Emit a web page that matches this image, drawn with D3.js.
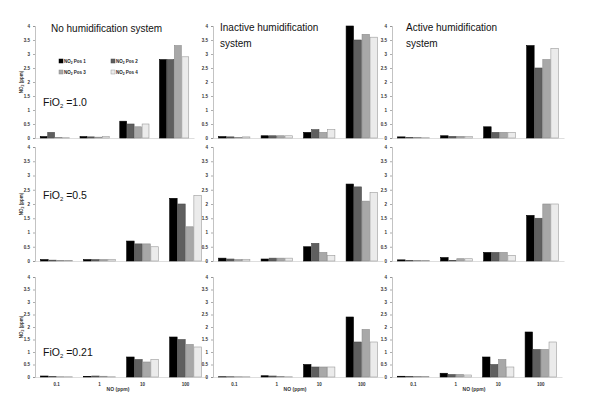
<!DOCTYPE html>
<html><head><meta charset="utf-8">
<script src="https://cdn.jsdelivr.net/npm/d3@7"></script>
<style>body{margin:0;background:#fff}svg{display:block;font-family:"Liberation Sans",Arial,sans-serif}</style>
</head><body>
<svg id="c" width="600" height="409"></svg>
<script>
// ---- data ----
const categories = ["0.1", "1", "10", "100"];
const seriesNames = ["Pos 1", "Pos 2", "Pos 3", "Pos 4"];
const seriesColors = ["#000000", "#5f5f5f", "#a8a8a8", "#ebebeb"];
const seriesStrokes = ["#000000", "#4a4a4a", "#8a8a8a", "#9a9a9a"];
const yTicks = [0, 0.5, 1, 1.5, 2, 2.5, 3, 3.5, 4];
const columnTitles = [["No humidification system"], ["Inactive humidification", "system"], ["Active humidification", "system"]];
const rowLabels = ["1.0", "0.5", "0.21"];
// values: [category][Pos1..Pos4]
const noHumFi100 = [[0.05, 0.2, 0.02, 0.01], [0.05, 0.04, 0.03, 0.05], [0.6, 0.5, 0.4, 0.5], [2.8, 2.8, 3.3, 2.9]];
const inactiveFi100 = [[0.05, 0.04, 0.02, 0.04], [0.08, 0.08, 0.08, 0.08], [0.2, 0.3, 0.2, 0.3], [4.0, 3.5, 3.7, 3.6]];
const activeFi100 = [[0.04, 0.02, 0.02, 0.01], [0.08, 0.06, 0.06, 0.05], [0.4, 0.2, 0.2, 0.2], [3.3, 2.5, 2.8, 3.2]];
const noHumFi050 = [[0.05, 0.03, 0.02, 0.02], [0.05, 0.05, 0.05, 0.06], [0.7, 0.6, 0.6, 0.5], [2.2, 2.0, 1.2, 2.3]];
const inactiveFi050 = [[0.1, 0.07, 0.05, 0.06], [0.07, 0.1, 0.1, 0.1], [0.5, 0.62, 0.3, 0.2], [2.7, 2.6, 2.1, 2.4]];
const activeFi050 = [[0.04, 0.02, 0.02, 0.02], [0.12, 0.02, 0.08, 0.08], [0.3, 0.3, 0.3, 0.2], [1.6, 1.5, 2.0, 2.0]];
const noHumFi021 = [[0.04, 0.02, 0.01, 0.01], [0.02, 0.04, 0.03, 0.01], [0.8, 0.7, 0.6, 0.7], [1.6, 1.5, 1.3, 1.2]];
const inactiveFi021 = [[0.01, 0.01, 0.01, 0.01], [0.05, 0.04, 0.02, 0.01], [0.5, 0.4, 0.4, 0.4], [2.4, 1.4, 1.9, 1.4]];
const activeFi021 = [[0.03, 0.02, 0.02, 0.02], [0.15, 0.1, 0.1, 0.08], [0.8, 0.5, 0.7, 0.4], [1.8, 1.1, 1.1, 1.4]];

const panelData = [
  [noHumFi100, inactiveFi100, activeFi100],
  [noHumFi050, inactiveFi050, activeFi050],
  [noHumFi021, inactiveFi021, activeFi021]
];

// ---- layout ----
const rowY = [[26, 138], [147, 261], [277, 377]];
const colX = [
  [[35, 194], [213, 383], [392, 564]],
  [[35, 207], [213, 383], [392, 564]],
  [[35, 207], [213, 383], [392, 562]]
];

const svg = d3.select("#c");

panelData.forEach((row, r) => {
  row.forEach((vals, c) => {
    const [x0, x1] = colX[r][c];
    const [yt, yb] = rowY[r];
    const y = d3.scaleLinear().domain([0, 4]).range([yb, yt]);
    const x = d3.scaleBand().domain(categories).range([x0, x1]).paddingInner(0.25).paddingOuter(0.125);
    const xs = d3.scaleBand().domain(seriesNames).range([0, x.bandwidth()]);
    const g = svg.append("g");

    // y axis
    const ya = g.append("g").attr("transform", `translate(${x0},0)`)
      .call(d3.axisLeft(y).tickValues(yTicks).tickSize(2).tickPadding(3).tickFormat(d3.format("")));
    ya.select(".domain").attr("stroke", "#9a9a9a").attr("stroke-width", 0.6);
    ya.selectAll(".tick line").attr("stroke", "#777").attr("stroke-width", 0.6);
    ya.selectAll(".tick text").attr("font-size", 4.5).attr("fill", "#333").attr("font-weight", "bold");

    // x axis line
    const xa = g.append("g").attr("transform", `translate(0,${yb})`)
      .call(d3.axisBottom(x).tickSize(0).tickPadding(6));
    xa.select(".domain").attr("stroke", "#c8c8c8").attr("stroke-width", 0.6);
    if (r === 2) {
      xa.selectAll(".tick text").attr("font-size", 4.5).attr("fill", "#333").attr("font-weight", "bold");
    } else {
      xa.selectAll(".tick text").remove();
    }

    // bars
    const grp = g.selectAll("g.cat").data(vals.map((v, i) => ({cat: categories[i], v})))
      .enter().append("g").attr("transform", d => `translate(${x(d.cat)},0)`);
    grp.selectAll("rect").data(d => d.v.map((val, k) => ({s: seriesNames[k], k, val})))
      .enter().append("rect")
      .attr("x", d => xs(d.s) + 0.3)
      .attr("width", xs.bandwidth() - 0.6)
      .attr("y", d => y(d.val))
      .attr("height", d => yb - y(d.val))
      .attr("fill", d => seriesColors[d.k])
      .attr("stroke", d => seriesStrokes[d.k])
      .attr("stroke-width", 0.6);

    // y axis title on left column
    if (c === 0) {
      const t = g.append("text").attr("transform", `translate(23,${(yt + yb) / 2}) rotate(-90)`)
        .attr("text-anchor", "middle").attr("font-size", 4.5).attr("font-weight", "bold").attr("fill", "#333");
      t.append("tspan").text("NO");
      t.append("tspan").text("2").attr("font-size", 3.5).attr("dy", 1);
      t.append("tspan").text(" (ppm)").attr("dy", -1);
    }
    // x axis title bottom row
    if (r === 2) {
      g.append("text").attr("x", (x0 + x1) / 2 - 3).attr("y", 391).attr("text-anchor", "middle")
        .attr("font-size", 5).attr("font-weight", "bold").attr("fill", "#333").text("NO (ppm)");
    }
  });
});

// column titles
const titlePos = [[51, 32], [220, 31], [406, 31]];
columnTitles.forEach((lines, c) => {
  lines.forEach((ln, i) => {
    svg.append("text").attr("x", titlePos[c][0]).attr("y", titlePos[c][1] + i * 16)
      .attr("font-size", 10).attr("fill", "#111").text(ln);
  });
});

// FiO2 labels
const fiY = [106, 199, 356];
rowLabels.forEach((lab, r) => {
  const t = svg.append("text").attr("x", 43).attr("y", fiY[r]).attr("font-size", 10.5).attr("fill", "#111");
  t.append("tspan").text("FiO");
  t.append("tspan").text("2").attr("font-size", 6).attr("dy", 2);
  t.append("tspan").text(" =" + lab).attr("dy", -2);
});

// legend
const legPos = [[61, 61], [113, 61], [61, 72], [113, 72]];
seriesNames.forEach((s, k) => {
  const lg = svg.append("g").attr("transform", `translate(${legPos[k][0]},${legPos[k][1]})`);
  lg.append("rect").attr("x", -2).attr("y", -2).attr("width", 4).attr("height", 4)
    .attr("fill", seriesColors[k]).attr("stroke", seriesStrokes[k]).attr("stroke-width", 0.5);
  const t = lg.append("text").attr("x", 3).attr("y", 1.6).attr("font-size", 4.5).attr("font-weight", "bold").attr("fill", "#222");
  t.append("tspan").text("NO");
  t.append("tspan").text("2").attr("font-size", 3.3).attr("dy", 1);
  t.append("tspan").text(" " + s).attr("dy", -1);
});
</script>
</body></html>
